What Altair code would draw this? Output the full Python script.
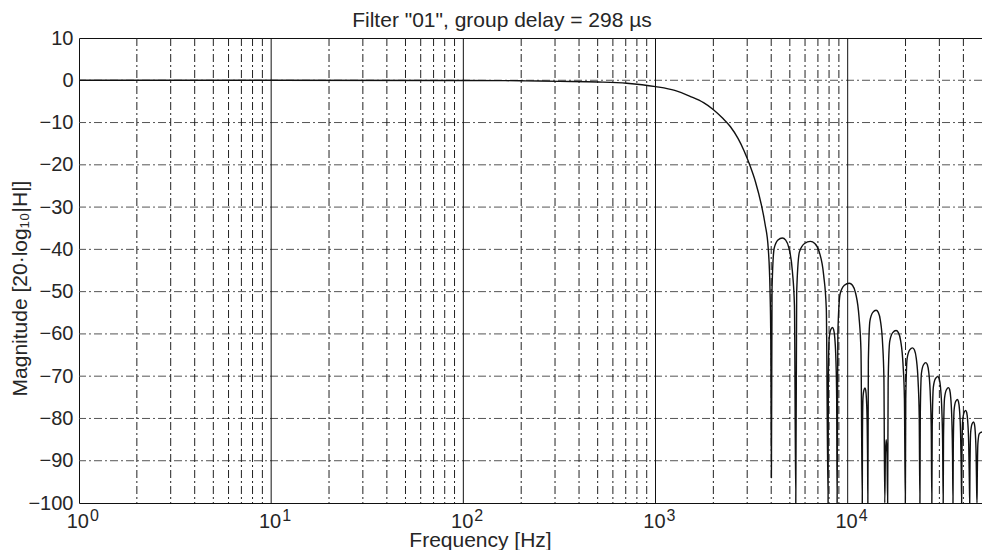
import altair as alt
import pandas as pd

FONT = "Liberation Sans"
TXT = "#262626"

# ---- curve values (log10 of frequency in Hz, magnitude in dB) ----
main_lf = [0, 1, 2, 2.3, 2.5, 2.7, 2.85, 3.0, 3.1, 3.18, 3.25, 3.30, 3.35, 3.39, 3.43,
           3.46, 3.49, 3.52, 3.55, 3.57, 3.587, 3.596, 3.600, 3.603]
main_db = [0, 0, -0.05, -0.12, -0.25, -0.4, -0.7, -1.5, -2.4, -3.8, -5.3, -6.9, -9.0, -11.0, -13.8,
           -16.6, -20.0, -24.0, -29.3, -34.0, -40.0, -50.0, -62.0, -94.0]

side_lf = [
    3.6064, 3.6173, 3.6372, 3.660, 3.6775, 3.695, 3.7125, 3.723, 3.730,
    3.7346, 3.749, 3.7756, 3.806, 3.829, 3.852, 3.875, 3.8888, 3.898,
    3.8994, 3.9038, 3.9118, 3.921, 3.927, 3.933, 3.939, 3.9426, 3.945,
    3.9488, 3.9608, 3.9828, 4.008, 4.025, 4.042, 4.059, 4.0692, 4.076,
    4.0768, 4.0795, 4.0844, 4.090, 4.0938, 4.0975, 4.1013, 4.1035, 4.105,
    4.1076, 4.1158, 4.1308, 4.148, 4.1593, 4.1705, 4.1818, 4.1885, 4.193,
    4.1965, 4.2005, 4.2045, 4.208,
    4.2106, 4.219, 4.2344, 4.252, 4.264, 4.276, 4.288, 4.2952, 4.300,
    4.3023, 4.3095, 4.3228, 4.338, 4.3475, 4.357, 4.3665, 4.3722, 4.376,
    4.3779, 4.3838, 4.3946, 4.407, 4.4148, 4.4225, 4.4303, 4.4349, 4.438,
    4.4399, 4.4458, 4.4566, 4.469, 4.476, 4.483, 4.490, 4.4942, 4.497,
    4.4987, 4.504, 4.5138, 4.525, 4.5308, 4.5365, 4.5423, 4.5457, 4.548,
    4.5494, 4.5538, 4.5618, 4.571, 4.5765, 4.582, 4.5875, 4.5908, 4.593,
    4.5943, 4.5983, 4.6056, 4.614, 4.6193, 4.6245, 4.6298, 4.6329, 4.635,
    4.6362, 4.640, 4.647, 4.655, 4.6595, 4.664, 4.6685, 4.6712, 4.673,
    4.6741, 4.6775, 4.685, 4.699,
]
side_db = [
    -49.3, -39.8, -37.8, -37.3, -37.8, -39.8, -45.3, -53.3, -100,
    -50.1, -40.6, -38.6, -38.1, -38.6, -40.6, -46.1, -54.1, -100,
    -70.5, -61.0, -59.0, -58.5, -59.0, -61.0, -66.5, -74.5, -100,
    -60.0, -50.5, -48.5, -48.0, -48.5, -50.5, -56.0, -64.0, -100,
    -84.8, -75.3, -73.3, -72.8, -73.3, -75.3, -80.8, -88.8, -100,
    -66.4, -56.9, -54.9, -54.4, -54.9, -56.9, -62.4, -70.4, -100,
    -88.0, -85.0, -88.0, -100,
    -71.2, -61.7, -59.7, -59.2, -59.7, -61.7, -67.2, -75.2, -100,
    -75.3, -65.8, -63.8, -63.3, -63.8, -65.8, -71.3, -79.3, -100,
    -78.8, -69.3, -67.3, -66.8, -67.3, -69.3, -74.8, -82.8, -100,
    -82.1, -72.6, -70.6, -70.1, -70.6, -72.6, -78.1, -86.1, -100,
    -84.7, -75.2, -73.2, -72.7, -73.2, -75.2, -80.7, -88.7, -100,
    -87.5, -78.0, -76.0, -75.5, -76.0, -78.0, -83.5, -91.5, -100,
    -90.1, -80.6, -78.6, -78.1, -78.6, -80.6, -86.1, -94.1, -100,
    -92.8, -83.3, -81.3, -80.8, -81.3, -83.3, -88.8, -96.8, -100,
    -95.0, -86.0, -83.6, -83.2,
]

# ---- axis ticks / texts ----
decades = [1, 10, 100, 1000, 10000]
exponents = ["0", "1", "2", "3", "4"]
minor_ticks = [m * d for d in decades for m in range(2, 10) if m * d < 50000]
db_ticks = list(range(-100, 11, 10))
x_domain = [1, 50000]
y_domain = [-100, 10]
title_text = 'Filter "01", group delay = 298 µs'

W, H = 903, 465
xs = alt.Scale(type="log", domain=x_domain, nice=False)
ys = alt.Scale(domain=y_domain, nice=False)
DASH = [8, 3, 2, 3]

x_axis = alt.Axis(
    labels=False, ticks=False, domain=False, grid=False,
    title="Frequency [Hz]", titleX=401, titleY=43, titleBaseline="alphabetic",
    titleAlign="center", titleFontSize=21, titleFontWeight="normal",
    titleFont=FONT, titleColor=TXT)
y_axis = alt.Axis(
    values=db_ticks, ticks=False, domain=False, grid=False, labelPadding=6,
    labelFontSize=20, labelFont=FONT, labelColor=TXT, labelOverlap=False,
    title="Magnitude [20·log₁₀|H|]", titleX=-53, titleY=250, titleAngle=270,
    titleBaseline="alphabetic", titleAlign="center", titleFontSize=21,
    titleFontWeight="normal", titleFont=FONT, titleColor=TXT)

curve = pd.DataFrame({"log_freq": main_lf + side_lf, "mag": main_db + side_db})

line = (
    alt.Chart(curve)
    .transform_calculate(freq="pow(10, datum.log_freq)")
    .mark_line(color="#111111", strokeWidth=1.4, interpolate="monotone", clip=True)
    .encode(
        x=alt.X("freq:Q", scale=xs, axis=x_axis),
        y=alt.Y("mag:Q", scale=ys, axis=y_axis),
    )
)

h_rules = alt.Chart(pd.DataFrame({"v": [v for v in db_ticks if -100 < v < 10]})).mark_rule(
    color="#555555", strokeWidth=1, strokeDash=DASH).encode(
    y=alt.Y("v:Q", scale=ys, axis=y_axis))

minor_rules = alt.Chart(pd.DataFrame({"f": minor_ticks})).mark_rule(
    color="#222222", strokeWidth=1, strokeDash=DASH).encode(
    x=alt.X("f:Q", scale=xs, axis=x_axis))

decade_rules = alt.Chart(pd.DataFrame({"f": decades[1:]})).mark_rule(
    color="#111111", strokeWidth=1).encode(
    x=alt.X("f:Q", scale=xs, axis=x_axis))

lab_df = pd.DataFrame({"f": decades, "base": ["10"] * len(decades), "exp": exponents})
lab_base = alt.Chart(lab_df).mark_text(
    align="right", baseline="alphabetic", dx=10, dy=25, fontSize=20, font=FONT, color=TXT).encode(
    x=alt.X("f:Q", scale=xs, axis=x_axis), y=alt.value(H), text="base:N")
lab_exp = alt.Chart(lab_df).mark_text(
    align="left", baseline="alphabetic", dx=11, dy=18, fontSize=16, font=FONT, color=TXT).encode(
    x=alt.X("f:Q", scale=xs, axis=x_axis), y=alt.value(H), text="exp:N")

title = alt.Chart(pd.DataFrame({"t": [title_text]})).mark_text(
    align="center", baseline="alphabetic", fontSize=21, font=FONT, color=TXT).encode(
    x=alt.value(423), y=alt.value(-11), text="t:N")

chart = (
    alt.layer(h_rules, minor_rules, decade_rules, line, lab_base, lab_exp, title)
    .properties(
        width=W, height=H,
        padding={"left": 71, "top": 30, "right": 0, "bottom": 47},
        autosize=alt.AutoSizeParams(type="none"),
    )
    .configure_view(stroke="#111111", strokeWidth=1)
)

chart.save("out.html", embed_options={"renderer": "svg", "actions": False})
